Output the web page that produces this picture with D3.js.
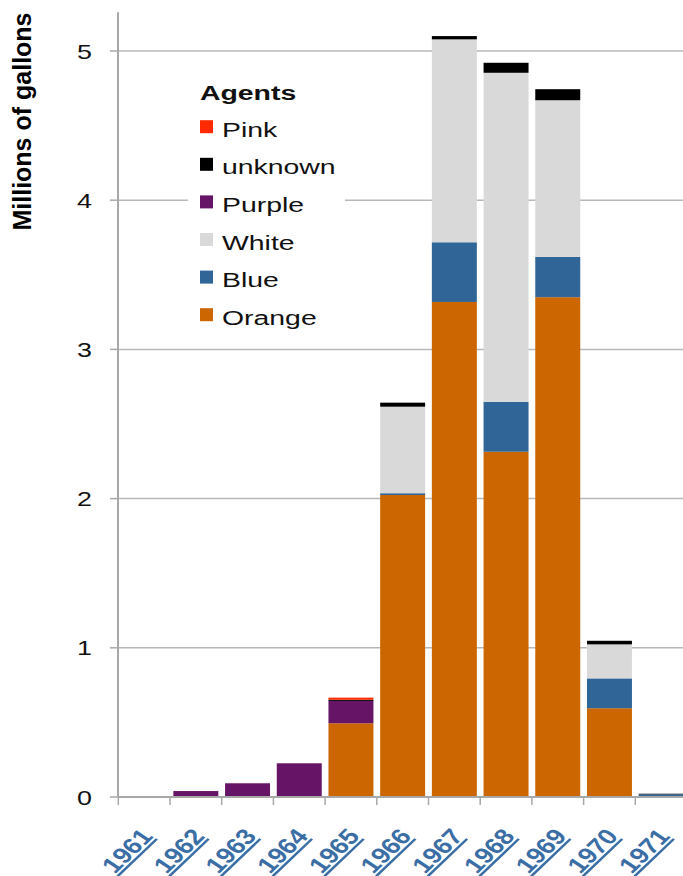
<!DOCTYPE html>
<html>
<head>
<meta charset="utf-8">
<script src="https://cdn.jsdelivr.net/npm/d3@7"></script>
<style>
  html, body { margin: 0; padding: 0; background: #fff; }
  svg { display: block; }
  text { font-family: "Liberation Sans", Arial, sans-serif; }
</style>
</head>
<body>
<svg id="chart" width="683" height="876"></svg>
<script>
const years = ["1961","1962","1963","1964","1965","1966","1967","1968","1969","1970","1971"];
const orange  = [0, 0, 0, 0, 0.494, 2.024, 3.318, 2.314, 3.35, 0.595, 0];
const blue    = [0, 0, 0, 0, 0, 0.012, 0.40, 0.335, 0.27, 0.20, 0.018];
const white   = [0, 0, 0, 0, 0, 0.58, 1.36, 2.205, 1.05, 0.228, 0];
const purple  = [0, 0.04, 0.092, 0.226, 0.15, 0, 0, 0, 0, 0, 0];
const unknown = [0, 0, 0, 0, 0.008, 0.027, 0.022, 0.067, 0.074, 0.024, 0.004];
const pink    = [0, 0, 0, 0, 0.014, 0, 0, 0, 0, 0, 0];
const yTicks  = [0, 1, 2, 3, 4, 5];

const seriesNames = ["Orange", "Blue", "White", "Purple", "unknown", "Pink"];
const seriesValues = [orange, blue, white, purple, unknown, pink];
const colors = {Orange:"#cc6600", Blue:"#2f6597", White:"#d9d9d9", Purple:"#661566", unknown:"#000000", Pink:"#ff2a00"};

const table = years.map((yr, i) => {
  const row = {year: yr};
  seriesNames.forEach((s, k) => row[s] = seriesValues[k][i]);
  return row;
});

const SX = 1.42; // horizontal text stretch seen in the reference

const svg = d3.select("#chart");
const x0 = 118.3, step = 51.7;
const x = d3.scaleBand().domain(years).range([x0, x0 + step * years.length]).paddingInner(0.13).paddingOuter(0.065);
const y = d3.scaleLinear().domain([0, 5]).range([797, 51]);
const yTopVal = 5.26;

// gridlines
svg.append("g").selectAll("line").data(yTicks.filter(d => d > 0)).join("line")
  .attr("x1", 118).attr("x2", 683)
  .attr("y1", d => y(d)).attr("y2", d => y(d))
  .attr("stroke", "#b8b8b8").attr("stroke-width", 1.5);

// y tick marks
svg.append("g").selectAll("line").data(yTicks).join("line")
  .attr("x1", 110).attr("x2", 118)
  .attr("y1", d => y(d)).attr("y2", d => y(d))
  .attr("stroke", "#a8a8a8").attr("stroke-width", 1.5);

// y labels
svg.append("g").selectAll("text").data(yTicks).join("text")
  .attr("transform", d => `translate(92,${y(d)}) scale(1.28,1)`)
  .attr("dy", "0.36em")
  .attr("text-anchor", "end").attr("font-size", 21).attr("fill", "#111")
  .text(d => d);

// legend background
svg.append("rect").attr("x", 188).attr("y", 78).attr("width", 157).attr("height", 258).attr("fill", "#fff");

// bars
const stack = d3.stack().keys(seriesNames)(table);
svg.append("g").selectAll("g").data(stack).join("g")
  .attr("fill", d => colors[d.key])
  .selectAll("rect").data(d => d.filter(p => p[1] - p[0] > 0)).join("rect")
  .attr("x", d => x(d.data.year))
  .attr("width", x.bandwidth())
  .attr("y", d => y(d[1]))
  .attr("height", d => y(d[0]) - y(d[1]));

// y axis line
svg.append("line").attr("x1", 118).attr("x2", 118).attr("y1", y(yTopVal)).attr("y2", y(0))
  .attr("stroke", "#a8a8a8").attr("stroke-width", 2);
// x axis line
svg.append("line").attr("x1", 118).attr("x2", 683).attr("y1", y(0)).attr("y2", y(0))
  .attr("stroke", "#a8a8a8").attr("stroke-width", 2);
// x tick marks at band boundaries
svg.append("g").selectAll("line").data(years).join("line")
  .attr("x1", (d, i) => x0 + i * step)
  .attr("x2", (d, i) => x0 + i * step)
  .attr("y1", y(0)).attr("y2", y(0) + 8)
  .attr("stroke", "#a8a8a8").attr("stroke-width", 1.5);

// x labels
svg.append("g").selectAll("text").data(years).join("text")
  .attr("transform", d => `translate(${x(d) + x.bandwidth() / 2 + 10},${837}) scale(1.25,1) rotate(-50)`)
  .attr("text-anchor", "end")
  .attr("font-size", 22).attr("font-weight", "bold")
  .attr("fill", "#3a6ea5")
  .style("text-decoration", "underline")
  .text(d => d);

// y title
svg.append("text")
  .attr("transform", "translate(31,121.5) rotate(-90)")
  .attr("text-anchor", "middle")
  .attr("font-size", 25).attr("font-weight", "bold").attr("fill", "#000")
  .text("Millions of gallons");

// legend
const legendOrder = ["Pink", "unknown", "Purple", "White", "Blue", "Orange"];
svg.append("text").attr("transform", `translate(200,100) scale(${SX},1)`)
  .attr("font-size", 20).attr("font-weight", "bold")
  .attr("fill", "#111").text("Agents");
const lg = svg.append("g").selectAll("g").data(legendOrder).join("g")
  .attr("transform", (d, i) => `translate(0,${136.7 + i * 37.6})`);
lg.append("rect").attr("x", 200).attr("y", -16.5).attr("width", 13).attr("height", 13)
  .attr("fill", d => colors[d]);
lg.append("text").attr("transform", `translate(222,0) scale(${SX},1)`)
  .attr("font-size", 20).attr("fill", "#111").text(d => d);
</script>
</body>
</html>
